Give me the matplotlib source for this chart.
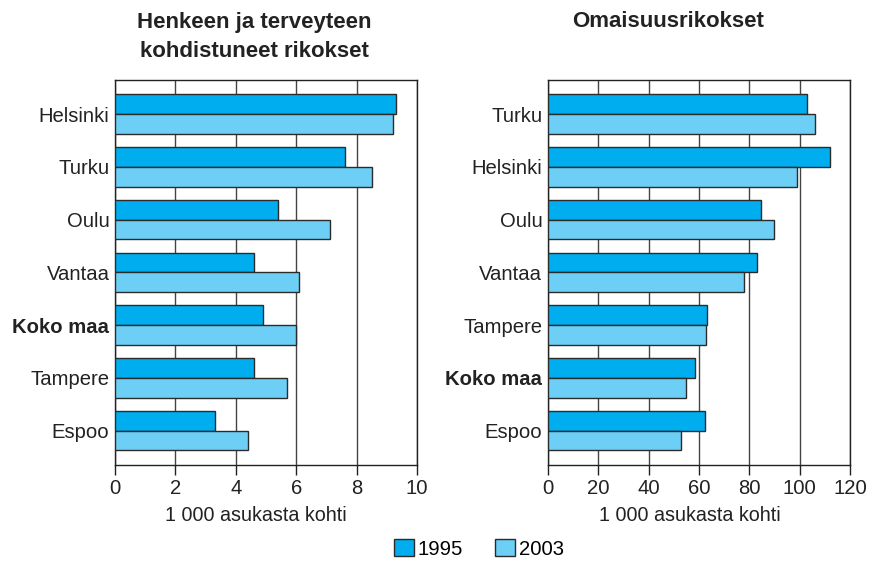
import numpy as np
import matplotlib
matplotlib.use("Agg")
import matplotlib.pyplot as plt
from matplotlib.patches import Patch

plt.rcParams['font.family'] = ['Liberation Sans', 'DejaVu Sans']

# henkeen ja terveyteen kohdistuneet rikokset, per 1000 asukasta
cities_l = ["Helsinki", "Turku", "Oulu", "Vantaa", "Koko maa", "Tampere", "Espoo"]
l_1995 = [9.3, 7.6, 5.4, 4.6, 4.9, 4.6, 3.3]
l_2003 = [9.2, 8.5, 7.1, 6.1, 6.0, 5.7, 4.4]

# omaisuusrikokset
cities_r = ["Turku", "Helsinki", "Oulu", "Vantaa", "Tampere", "Koko maa", "Espoo"]
r_1995 = [103, 112, 84.5, 83, 63, 58.6, 62.2]
r_2003 = [106, 99, 89.8, 78, 62.8, 54.8, 53]

c1995 = "#00aeef"
c2003 = "#6dcff6"
edge = "#2b2b2b"
txt = "#222222"

fig = plt.figure(figsize=(8.71, 5.64), dpi=100)
axl = fig.add_axes([0.132, 0.1755, 0.347, 0.683])
axr = fig.add_axes([0.629, 0.1755, 0.347, 0.683])

def panel(ax, cats, v1, v2, xmax, step):
    y = np.arange(len(cats))
    h = 0.374
    ax.barh(y - h/2, v1, height=h, color=c1995, edgecolor=edge, linewidth=1.0, zorder=3)
    ax.barh(y + h/2, v2, height=h, color=c2003, edgecolor=edge, linewidth=1.0, zorder=3)
    ax.set_ylim(6.65, -0.65)
    ax.set_xlim(0, xmax)
    ax.set_xticks(np.arange(0, xmax + 1, step))
    ax.set_yticks(y)
    ax.set_yticklabels(cats, fontsize=14.6)
    for lab in ax.get_yticklabels():
        if lab.get_text() == "Koko maa":
            lab.set_fontweight("bold")
    ax.tick_params(axis="y", length=0, pad=4, colors=txt)
    ax.tick_params(axis="x", length=7, width=1, labelsize=14.6, colors=txt, pad=3)
    ax.grid(axis="x", color="#444444", linewidth=1.0, zorder=0)
    for s in ax.spines.values():
        s.set_color(txt)
        s.set_linewidth(1.0)

panel(axl, cities_l, l_1995, l_2003, 10, 2)
panel(axr, cities_r, r_1995, r_2003, 120, 20)

fig.text(0.2916, 0.950, "Henkeen ja terveyteen", ha="center", va="baseline",
         fontsize=16, fontweight="bold", color=txt)
fig.text(0.2916, 0.899, "kohdistuneet rikokset", ha="center", va="baseline",
         fontsize=16, fontweight="bold", color=txt)
fig.text(0.767, 0.953, "Omaisuusrikokset", ha="center", va="baseline",
         fontsize=16, fontweight="bold", color=txt)
fig.text(0.294, 0.086, "1 000 asukasta kohti", ha="center", va="center", fontsize=14.2, color=txt)
fig.text(0.792, 0.086, "1 000 asukasta kohti", ha="center", va="center", fontsize=14.2, color=txt)

handles = [Patch(facecolor=c1995, edgecolor=edge, label="1995"),
           Patch(facecolor=c2003, edgecolor=edge, label="2003")]
fig.legend(handles=handles, loc="center", bbox_to_anchor=(0.550, 0.027), ncol=2, frameon=False,
           fontsize=14.6, handlelength=0.95, handleheight=0.95, handletextpad=0.2, columnspacing=1.6)

fig.savefig("out.png", dpi=100)
